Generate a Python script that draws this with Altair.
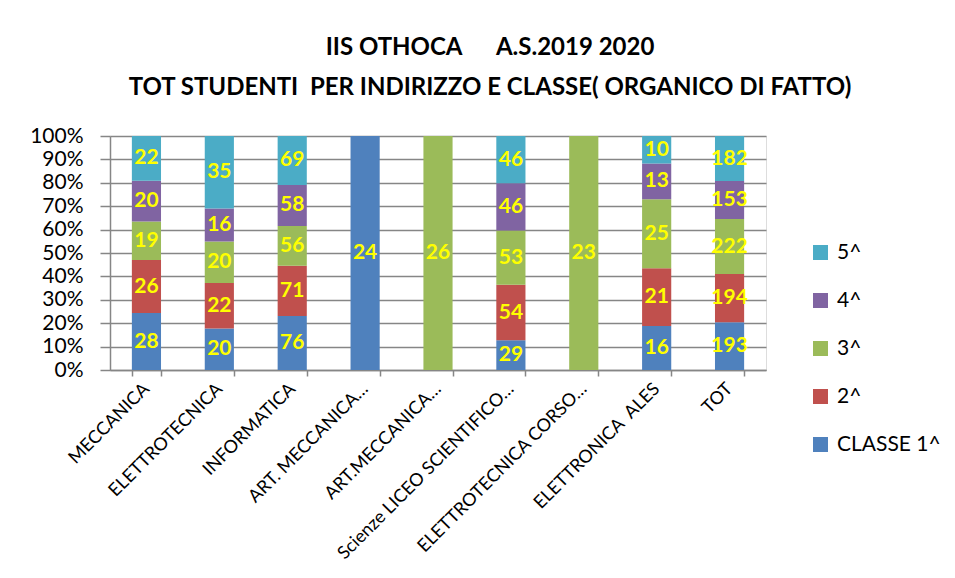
import altair as alt
import pandas as pd

categories = ["MECCANICA", "ELETTROTECNICA", "INFORMATICA", "ART. MECCANICA…",
              "ART.MECCANICA…", "Scienze LICEO SCIENTIFICO…", "ELETTROTECNICA CORSO…",
              "ELETTRONICA\u00a0\u00a0ALES", "TOT"]
classes = ["CLASSE 1^", "2^", "3^", "4^", "5^"]
classe1 = [28, 20, 76, 24, 0, 29, 0, 16, 193]
classe2 = [26, 22, 71, 0, 0, 54, 0, 21, 194]
classe3 = [19, 20, 56, 0, 26, 53, 23, 25, 222]
classe4 = [20, 16, 58, 0, 0, 46, 0, 13, 153]
classe5 = [22, 35, 69, 0, 0, 46, 0, 10, 182]
colors = ["#4F81BD", "#C0504D", "#9BBB59", "#8064A2", "#4BACC6"]
yticks = [0, 0.1, 0.2, 0.3, 0.4, 0.5, 0.6, 0.7, 0.8, 0.9, 1.0]

series = [classe1, classe2, classe3, classe4, classe5]
rows = []
for k, (cls, vals) in enumerate(zip(classes, series)):
    for cat, v in zip(categories, vals):
        rows.append({"cat": cat, "classe": cls, "ord": k, "value": v})
df = pd.DataFrame(rows)

FONT = "Lato"
legend_domain = classes[::-1]
legend_range = colors[::-1]

xscale = alt.Scale(paddingInner=0.6, paddingOuter=0.3)
xaxis = alt.Axis(labelAngle=-45, labelAlign="right", labelBaseline="middle",
                 labelFontSize=18, labelFont=FONT, labelColor="#000000",
                 labelPadding=10, tickBand="extent", tickSize=6,
                 tickColor="#868686", domainColor="#868686", domainWidth=1.5,
                 tickWidth=1.5, labelLimit=300, labelOverlap=False, title=None)
yscale = alt.Scale(domain=[0, 1])
yaxis = alt.Axis(format=".0%", values=yticks, labelOverlap=False,
                 labelFontSize=21, labelFont=FONT, labelColor="#000000",
                 labelPadding=17, tickSize=10, tickColor="#868686",
                 tickWidth=1.5, domainColor="#868686", domainWidth=1.5,
                 gridColor="#868686", gridWidth=1.5, title=None)

bars = alt.Chart(df).mark_bar().encode(
    x=alt.X("cat:N", sort=categories, scale=xscale, axis=xaxis),
    y=alt.Y("value:Q", stack="normalize", scale=yscale, axis=yaxis),
    color=alt.Color("classe:N", scale=alt.Scale(domain=legend_domain, range=legend_range),
                    legend=alt.Legend(title=None, orient="none", legendX=700, legendY=106,
                                      symbolType="square", symbolSize=225,
                                      symbolStrokeWidth=0, labelFontSize=21,
                                      labelFont=FONT, labelColor="#000000",
                                      rowPadding=26, labelOffset=6)),
    order=alt.Order("ord:Q", sort="ascending"),
)

labels = alt.Chart(df).transform_stack(
    stack="value", groupby=["cat"], as_=["y0", "y1"], offset="normalize",
    sort=[alt.SortField("ord", order="ascending")]
).transform_calculate(
    mid="(datum.y0 + datum.y1) / 2"
).transform_filter(
    "datum.value > 0"
).mark_text(color="#FFFF00", fontSize=21, fontWeight="bold", font=FONT).encode(
    x=alt.X("cat:N", sort=categories, scale=xscale, axis=xaxis),
    y=alt.Y("mid:Q", scale=yscale, axis=yaxis),
    text="value:Q",
)

chart = alt.layer(bars, labels).properties(
    width=656, height=234,
    autosize=alt.AutoSizeParams(type="none"),
    padding={"left": 102, "top": 128, "right": 181, "bottom": 200},
    title=alt.TitleParams(
        text=["IIS OTHOCA\u00a0\u00a0\u00a0\u00a0\u00a0\u00a0A.S.2019 2020",
              "TOT STUDENTI\u00a0\u00a0PER INDIRIZZO E CLASSE( ORGANICO DI FATTO)"],
        font=FONT, fontSize=24, fontWeight="bold", color="#000000",
        anchor="middle", dx=52, offset=25, lineHeight=40),
).configure_view(strokeWidth=0).configure(background="#ffffff")

chart.save("out.html", embed_options={"renderer": "svg", "actions": False})
